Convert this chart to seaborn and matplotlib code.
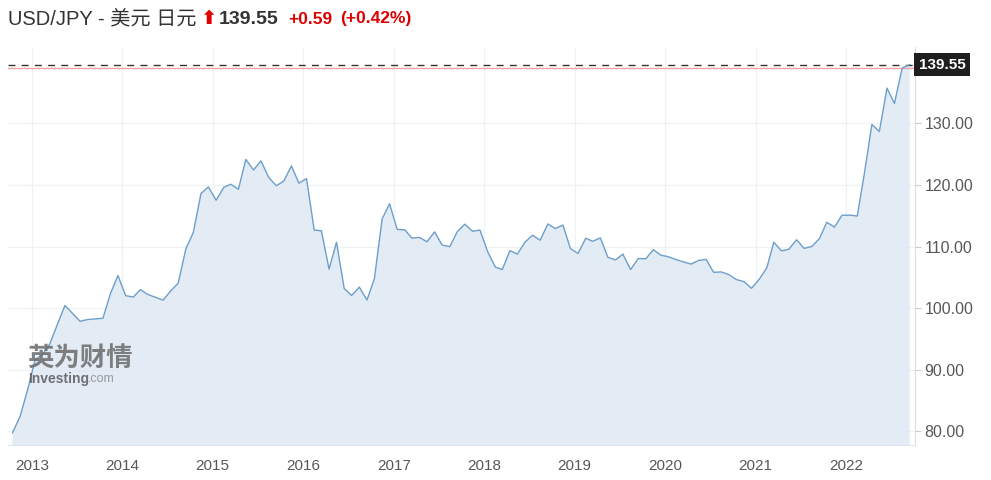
import matplotlib
matplotlib.use("Agg")
import matplotlib.pyplot as plt
import matplotlib.dates as mdates
import matplotlib.transforms as mtrans
import seaborn as sns
import numpy as np
import pandas as pd

# monthly USD/JPY closes, Oct 2012 .. Sep 2022
closes_2012 = [79.77, 82.46, 86.75]
closes_2013 = [91.70, 92.56, 94.22, 97.45, 100.45, 99.14, 97.88, 98.17, 98.27, 98.36, 102.44, 105.30]
closes_2014 = [102.04, 101.81, 103.02, 102.23, 101.78, 101.31, 102.79, 104.07, 109.65, 112.29, 118.63, 119.68]
closes_2015 = [117.53, 119.62, 120.13, 119.31, 124.15, 122.44, 123.92, 121.25, 119.88, 120.63, 123.11, 120.30]
closes_2016 = [121.04, 112.68, 112.57, 106.34, 110.71, 103.20, 102.06, 103.43, 101.33, 104.80, 114.47, 116.96]
closes_2017 = [112.79, 112.72, 111.39, 111.49, 110.78, 112.39, 110.26, 109.99, 112.46, 113.64, 112.49, 112.69]
closes_2018 = [109.19, 106.68, 106.27, 109.35, 108.79, 110.75, 111.84, 111.04, 113.68, 112.93, 113.50, 109.69]
closes_2019 = [108.88, 111.37, 110.86, 111.42, 108.28, 107.85, 108.78, 106.27, 108.07, 108.02, 109.50, 108.61]
closes_2020 = [108.35, 107.89, 107.53, 107.16, 107.75, 107.93, 105.83, 105.89, 105.45, 104.65, 104.31, 103.24]
closes_2021 = [104.68, 106.57, 110.72, 109.31, 109.58, 111.11, 109.72, 110.02, 111.29, 113.95, 113.17, 115.08]
closes_2022 = [115.11, 114.97, 121.70, 129.83, 128.68, 135.73, 133.24, 138.96, 139.55]

last_price = 139.55
prev_close = 138.96
change_txt = "+0.59"
change_pct = "(+0.42%)"
title_txt = "USD/JPY - 美元 日元"
year_ticks = list(range(2013, 2023))
price_ticks = [80, 90, 100, 110, 120, 130]

values = (closes_2012 + closes_2013 + closes_2014 + closes_2015 + closes_2016 + closes_2017
          + closes_2018 + closes_2019 + closes_2020 + closes_2021 + closes_2022)
dates = pd.date_range("2012-10-01", periods=len(values), freq="MS") + pd.Timedelta(days=14)
df = pd.DataFrame({"date": dates, "close": values})

sns.set_style("white")
plt.rcParams["font.family"] = ["Liberation Sans", "Noto Sans CJK SC", "DejaVu Sans"]

W, H = 991, 480
fig = plt.figure(figsize=(W / 100, H / 100), dpi=100)
ax = fig.add_axes([8 / W, 1 - 445 / H, (915 - 8) / W, (445 - 47) / H])

line_c = "#6d9fcb"
ax.fill_between(df["date"], df["close"], 60, color="#dfe9f4", alpha=0.85, lw=0, zorder=1)
sns.lineplot(data=df, x="date", y="close", ax=ax, color=line_c, lw=1.0, zorder=3)

ax.axhline(prev_close, color="#f4a3a3", lw=1.0, zorder=2)
ax.axhline(last_price, color="#333333", lw=1.0, ls=(0, (5, 4.5)), zorder=2)

ax.set_ylim(77.8, 142.4)
ax.set_xlim(pd.Timestamp("2012-09-27"), pd.Timestamp("2022-10-06"))
ax.set_xlabel("")
ax.set_ylabel("")

ax.set_xticks([pd.Timestamp(f"{y}-01-01") for y in year_ticks])
ax.xaxis.set_major_formatter(mdates.DateFormatter("%Y"))
ax.yaxis.tick_right()
ax.set_yticks(price_ticks)
ax.set_yticklabels([f"{v:.2f}" for v in price_ticks])

ax.tick_params(axis="x", length=0, pad=10, labelsize=11, labelcolor="#585858")
ax.tick_params(axis="y", length=4, width=0.8, color="#cccccc", pad=3, labelsize=11.5, labelcolor="#585858")

ax.grid(True, color="#eef1f5", lw=0.9, zorder=0)
for s in ["left", "top"]:
    ax.spines[s].set_visible(False)
ax.spines["right"].set_color("#d9dde2")
ax.spines["bottom"].set_color("#dfe5ec")

# price tag on the right axis
tr = mtrans.blended_transform_factory(ax.transAxes, ax.transData)
ax.text(1.004, last_price, f"{last_price:.2f}", transform=tr, ha="left", va="center",
        color="white", fontsize=11, fontweight="bold", family="Liberation Sans",
        bbox=dict(boxstyle="square,pad=0.28", fc="#1e1e1e", ec="none"), zorder=5, clip_on=False)

# header
fig.text(8 / W, 1 - 19 / H, title_txt, fontsize=14.5, color="#333333", va="center", ha="left")
fig.text(200 / W, 1 - 19 / H, "⬆", fontsize=14, color="#e00000", va="center", ha="left",
         family="DejaVu Sans", fontweight="bold")
fig.text(219 / W, 1 - 19 / H, f"{last_price:.2f}", fontsize=14, color="#333333", fontweight="bold",
         va="center", ha="left")
fig.text(288 / W, 1 - 19 / H, change_txt, fontsize=12.5, color="#dd0000", fontweight="bold",
         va="center", ha="left")
fig.text(340 / W, 1 - 19 / H, change_pct, fontsize=12.5, color="#dd0000", fontweight="bold",
         va="center", ha="left")

# watermark
fig.text(27 / W, 1 - 359 / H, "英为财情", fontsize=19, color="#6a6a6a", fontweight="bold",
         family=["Noto Sans CJK SC"], va="center", ha="left", alpha=0.85)
fig.text(28 / W, 1 - 379 / H, "Investing", fontsize=10, color="#5a5a5a", fontweight="bold",
         va="center", ha="left", alpha=0.85)
fig.text(88 / W, 1 - 379 / H, ".com", fontsize=9, color="#9a9a9a", va="center", ha="left")

fig.savefig("out.png", dpi=100)
